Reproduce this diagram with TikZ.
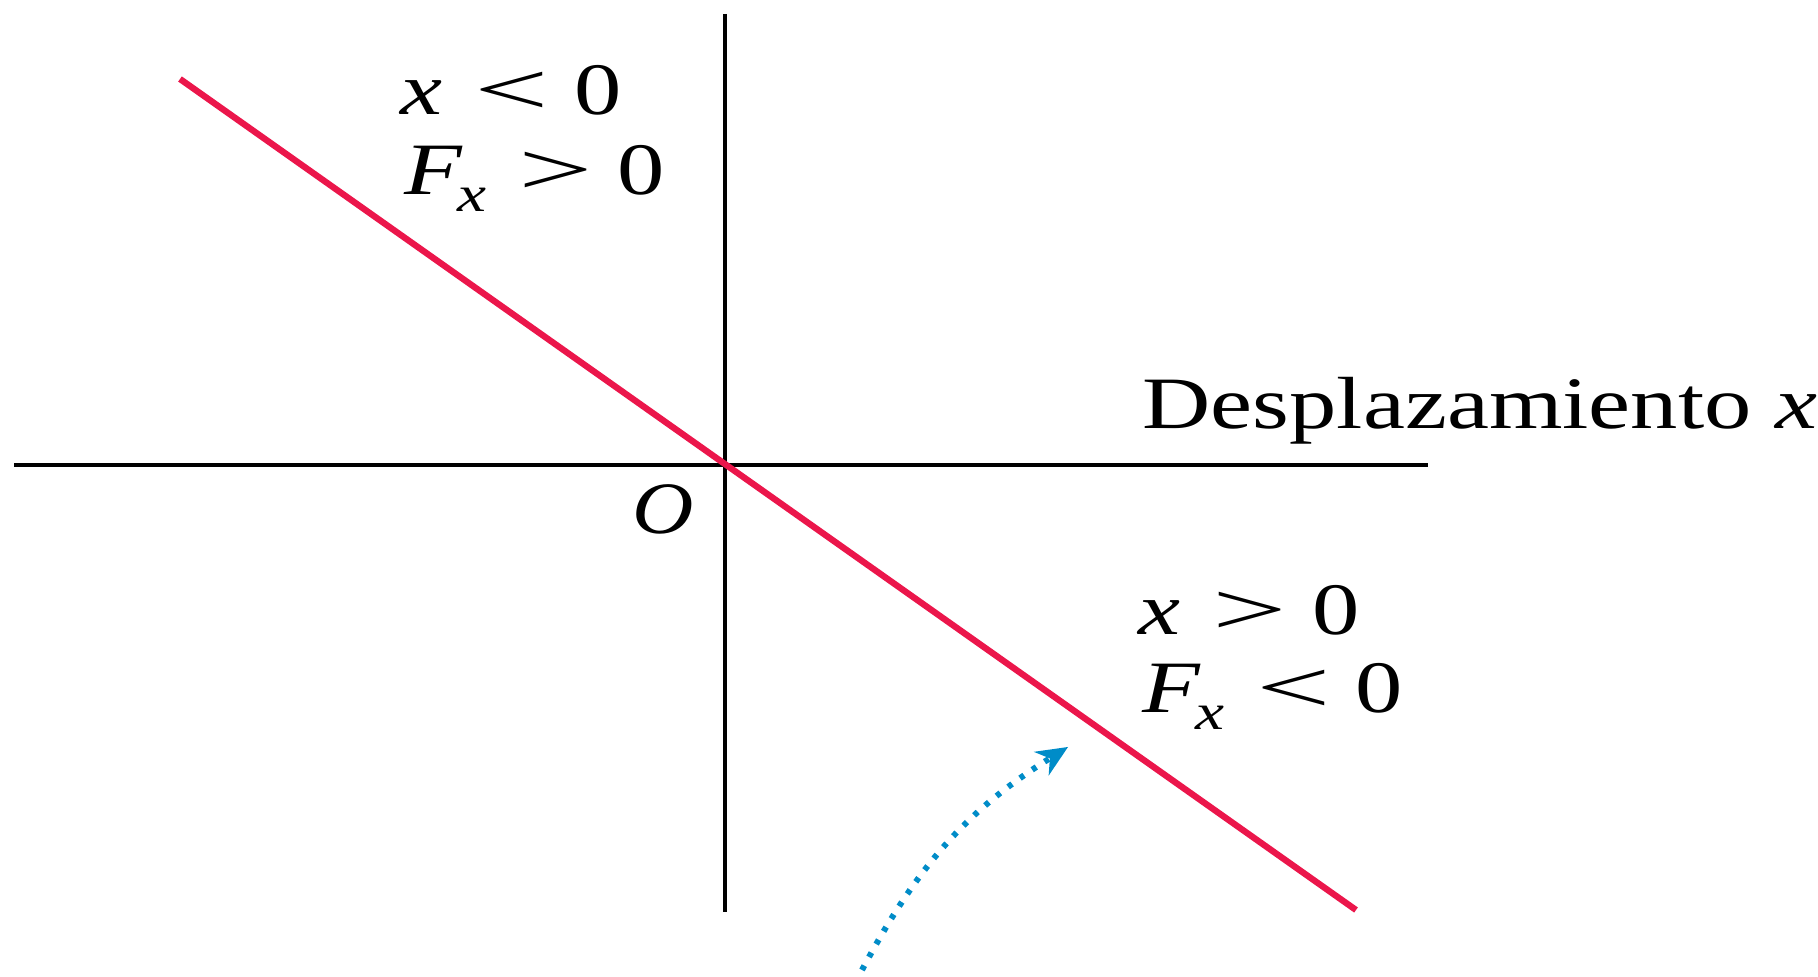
\documentclass[tikz,border=0pt]{standalone}
\usepackage{fontspec}
\setmainfont{Liberation Serif}
\usetikzlibrary{arrows.meta}
\definecolor{lred}{RGB}{235,22,75}
\definecolor{lblue}{RGB}{0,140,200}
\newcommand{\widen}[1]{\scalebox{1.28}[1]{#1}}
\newcommand{\sbx}{\kern-0.06em\raisebox{-0.22em}{\fontsize{14.5}{16}\selectfont\textit{x}}}
\newcommand{\rl}[1]{\hspace{0.34em}\scalebox{1.4}[1]{#1}\hspace{0.26em}}
\begin{document}
\begin{tikzpicture}[x=0.01cm,y=-0.01cm,
  axis/.style={line width=0.9pt,black},
  graph/.style={line width=1.8pt,lred},
  lbl/.style={anchor=base west,inner sep=0pt,font=\fontsize{21}{24}\selectfont},
  curvedarrow/.style={lblue,line width=1.7pt,dash pattern=on 1.4pt off 2.8pt,-{Stealth[length=9pt,width=8pt,line width=0pt]}}]
\useasboundingbox (0,0) rectangle (1818,977);
\coordinate (vt) at (725,14);
\coordinate (vb) at (725,912);
\coordinate (hl) at (14,465);
\coordinate (hr) at (1428,465);
\coordinate (ra) at (180,79);
\coordinate (rb) at (1356,910);
\coordinate (as) at (862,970);
\coordinate (ae) at (1068,747);
\draw[axis] (vt) -- (vb);
\draw[axis] (hl) -- (hr);
\draw[graph] (ra) -- (rb);
\draw[curvedarrow] (as) to[out=62,in=212] (ae);
\node[lbl] (l1) at (400,115) {\widen{\textit{x}\rl{<}0}};
\node[lbl] (l2) at (404,195) {\widen{\textit{F}\sbx\rl{>}0}};
\node[lbl] (l3) at (1142,429) {\widen{Desplazamiento \textit{x}}};
\node[lbl] (l4) at (632,534) {\scalebox{1.15}[1]{\textit{O}}};
\node[lbl] (l5) at (1138,635) {\widen{\textit{x}\rl{>}0}};
\node[lbl] (l6) at (1142,713) {\widen{\textit{F}\sbx\rl{<}0}};
\end{tikzpicture}
\end{document}
